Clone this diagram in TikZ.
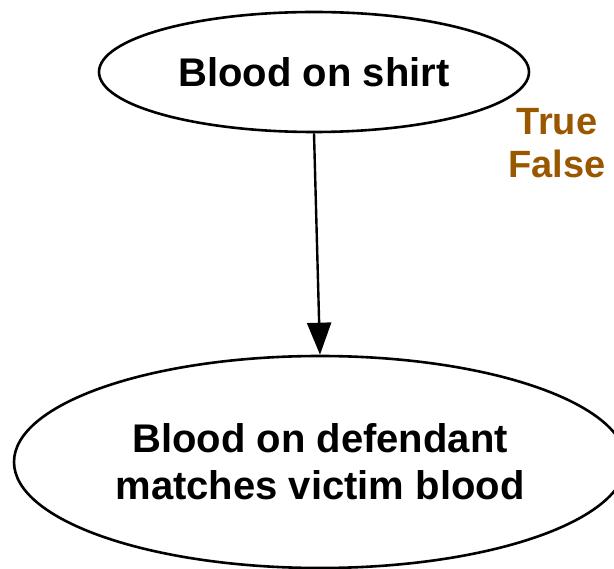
\documentclass[tikz,border=0pt]{standalone}
\usepackage{fontspec}
\setmainfont{Liberation Sans}
\usetikzlibrary{shapes.geometric,arrows.meta}
\definecolor{statebrown}{RGB}{153,88,0}
\begin{document}
\begin{tikzpicture}[x=1pt,y=-1pt,
  varnode/.style={ellipse,draw=black,line width=2.6pt,inner sep=0pt,
    align=center,font=\fontsize{40}{47}\selectfont\bfseries},
  link/.style={line width=2.4pt,-{Triangle[length=32pt,width=24pt]}},
  statelabel/.style={align=center,text=statebrown,
    font=\fontsize{38}{43}\selectfont\bfseries}]
  \useasboundingbox (0,0) rectangle (614,569);
  \clip (0,0) rectangle (614,569);
  % variable nodes
  \node[varnode,minimum width=430pt,minimum height=120pt] (shirt) at (314,72) {Blood on shirt};
  \node[varnode,minimum width=612pt,minimum height=212pt] (match) at (320,462)
    {Blood on defendant\\matches victim blood};
  % states of the parent variable
  \node[statelabel] (states) at (557,143) {True\\False};
  % dependency
  \draw[link] (shirt.south) -- (match.north);
\end{tikzpicture}
\end{document}
